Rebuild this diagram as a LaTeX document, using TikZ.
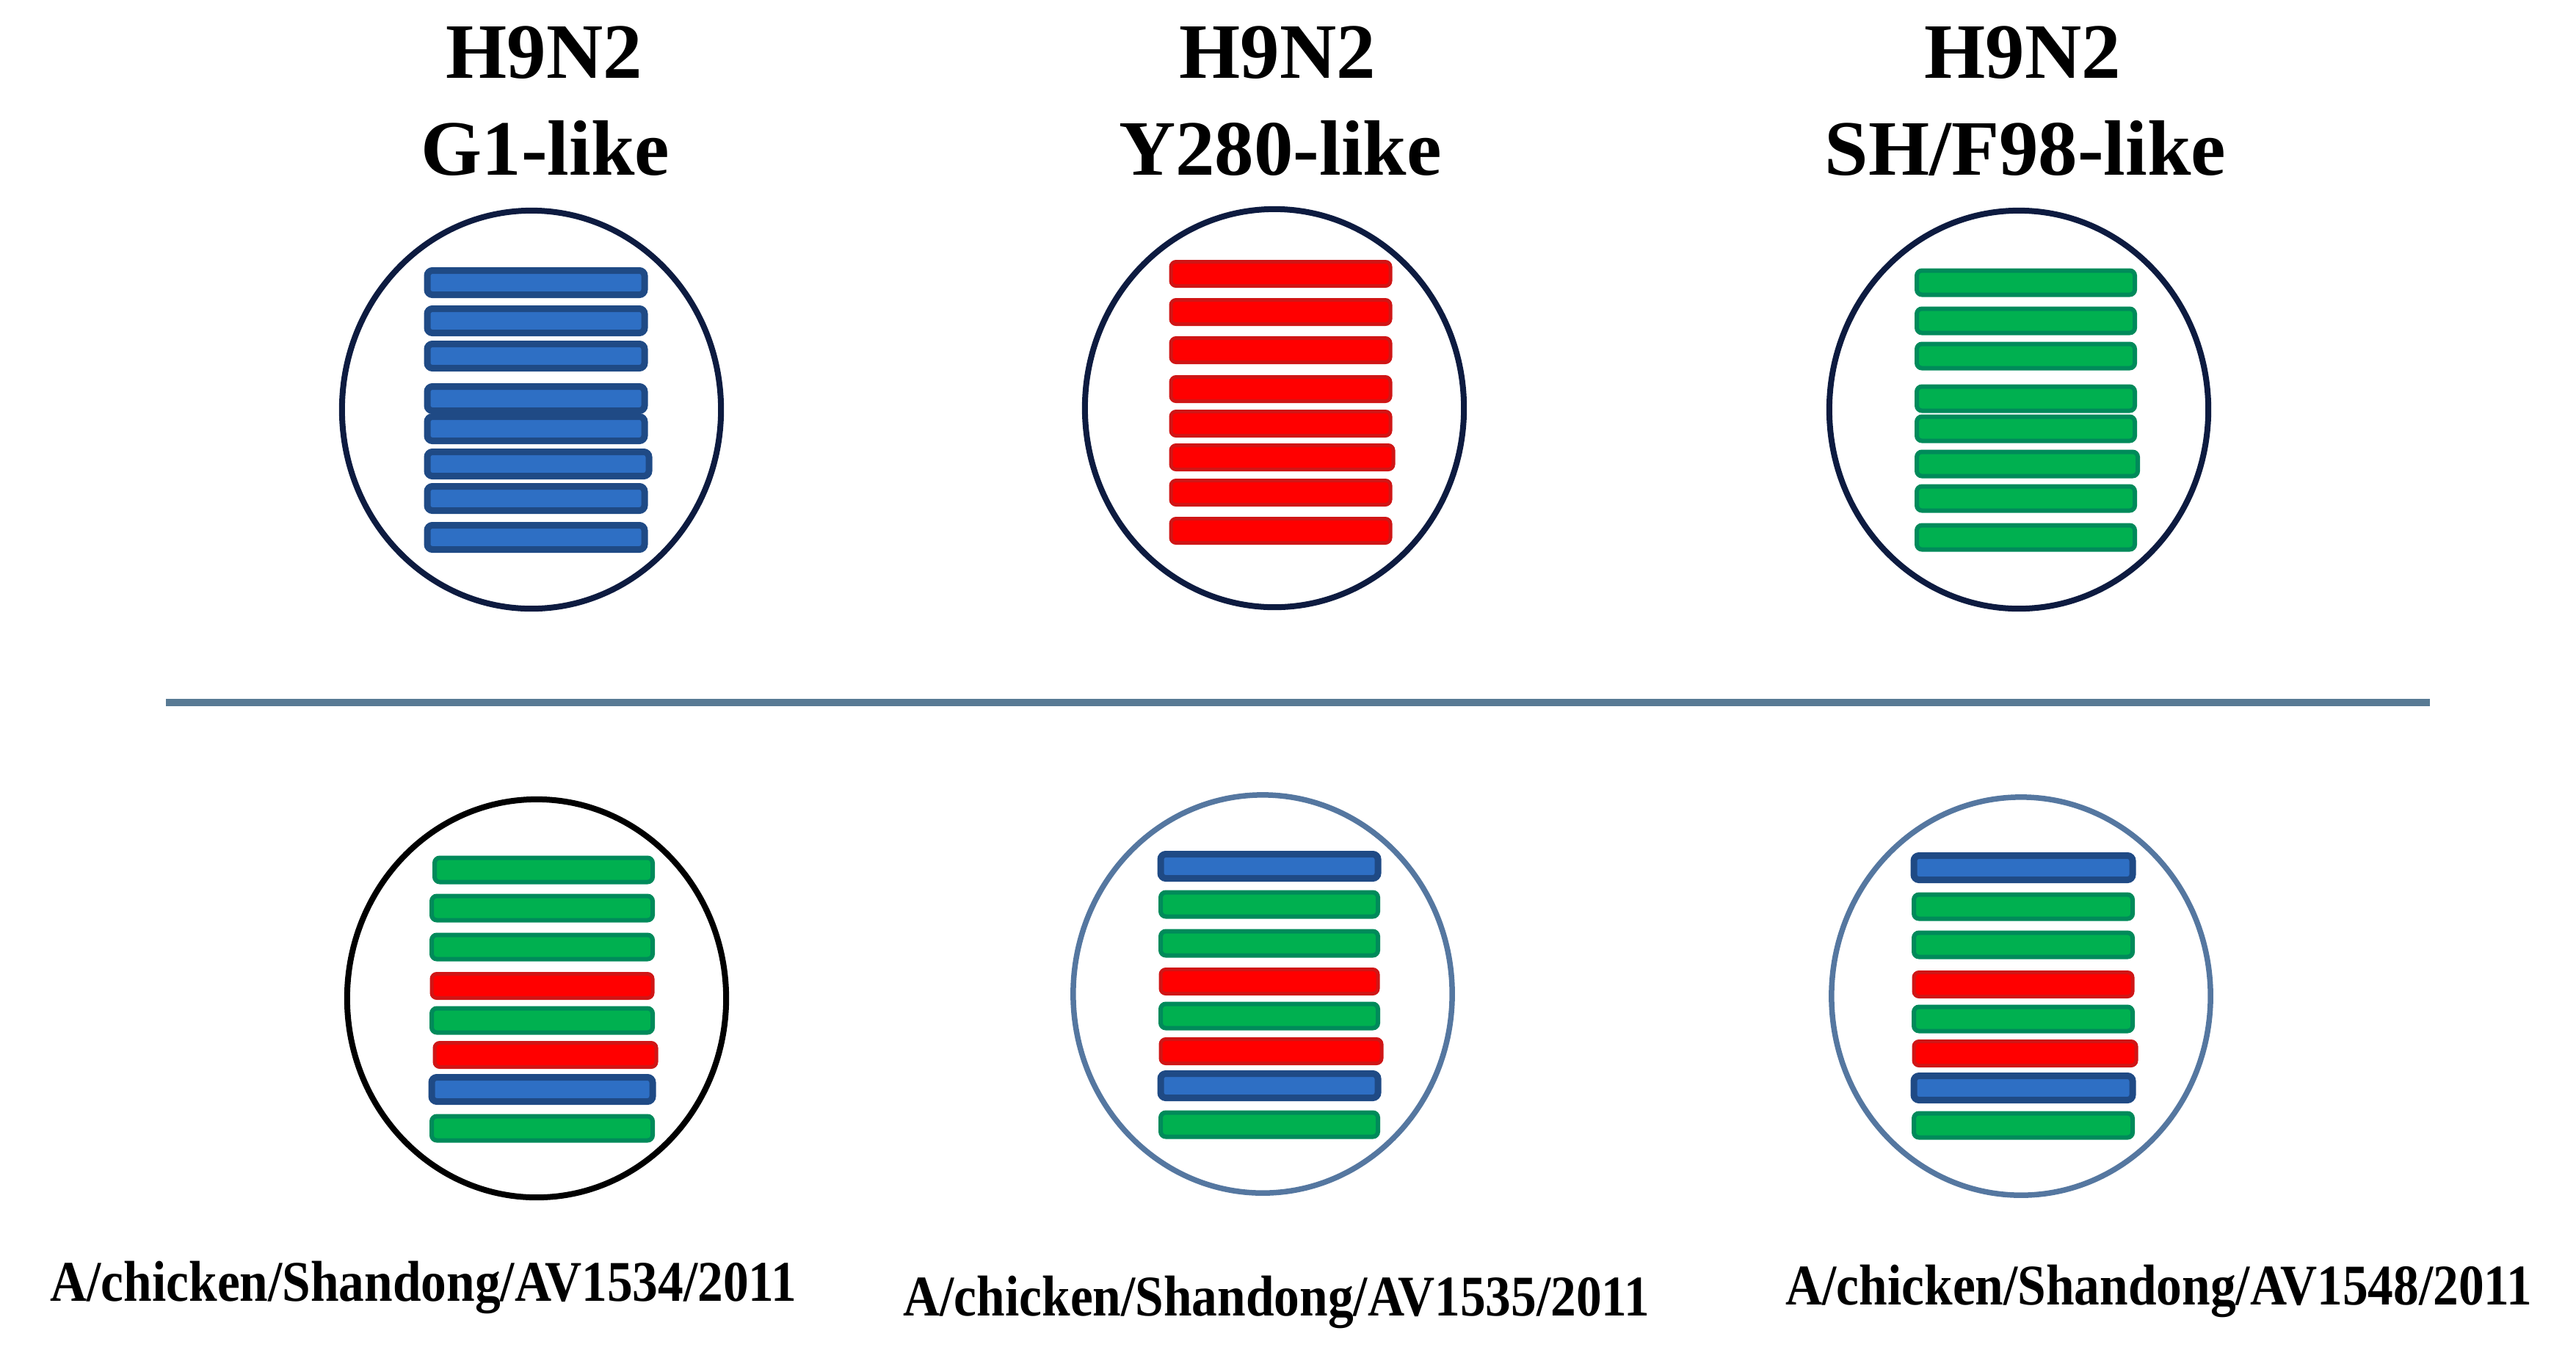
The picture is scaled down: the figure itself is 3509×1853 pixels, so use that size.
\documentclass[tikz,border=0pt]{standalone}
\usepackage{fontspec}
\setmainfont{Liberation Serif}
\usetikzlibrary{shapes.geometric}
\definecolor{navy}{HTML}{0D1B40}
\definecolor{steel}{HTML}{5577A0}
\definecolor{sepcol}{HTML}{587A94}
\definecolor{barBd}{HTML}{1F4A85}
\definecolor{barBf}{HTML}{2E6FC4}
\definecolor{barGd}{HTML}{008A5A}
\definecolor{barGf}{HTML}{00B050}
\definecolor{barRd}{HTML}{D01515}
\definecolor{barRf}{HTML}{FF0000}
\tikzset{
  barB/.style={draw=barBd, fill=barBf, line width=0.09cm, rounded corners=0.07cm},
  barG/.style={draw=barGd, fill=barGf, line width=0.06cm, rounded corners=0.07cm},
  barR/.style={draw=barRd, fill=barRf, line width=0.05cm, rounded corners=0.07cm},
  ring/.style={ellipse, minimum width=5.16cm, minimum height=5.42cm, line width=0.08cm, inner sep=0pt},
  topring/.style={ring, draw=navy},
  blackring/.style={ring, draw=black},
  steelring/.style={ring, draw=steel, line width=0.075cm},
  sepline/.style={draw=sepcol, line width=0.1cm},
  title/.style={anchor=base, inner sep=0pt, font=\fontsize{30.4}{37.6}\selectfont\bfseries},
  strain/.style={anchor=base, inner sep=0pt, font=\fontsize{22.3}{26}\selectfont\bfseries}
}
\begin{document}
\begin{tikzpicture}[x=0.01cm, y=-0.01cm]
\useasboundingbox (0,0) rectangle (3509,1853);
% titles
\node[title] (t1a) at (741,106) {H9N2};
\node[title] (t1b) at (743,238) {G1-like};
\node[title] (t2a) at (1740,106) {H9N2};
\node[title] (t2b) at (1744,238) {Y280-like};
\node[title] (t3a) at (2755,106) {H9N2};
\node[title] (t3b) at (2759,238) {SH/F98-like};
% top circles
\node[topring] (c1) at (724,558) {};
\node[topring] (c2) at (1736,556) {};
\node[topring] (c3) at (2750,558) {};
% top bars
\foreach \y/\c/\r in {385/B/882, 437/B/882, 485/B/882, 543/B/882, 584/B/882, 632/B/888, 679/B/882, 732/B/882}
  \draw[bar\c] (582,\y-16.5) rectangle (\r-4,\y+16.5);
\foreach \y/\c/\r in {373/R/1898, 425/R/1898, 477/R/1898, 530/R/1898, 577/R/1898, 623/R/1902, 671/R/1898, 723/R/1898}
  \draw[bar\c] (1595,\y-16.5) rectangle (\r-4,\y+16.5);
\foreach \y/\c/\r in {385/G/2912, 437/G/2912, 485/G/2912, 543/G/2912, 584/G/2912, 632/G/2916, 679/G/2912, 732/G/2912}
  \draw[bar\c] (2611,\y-16.5) rectangle (\r-4,\y+16.5);
% separator
\coordinate (sl) at (226,957);
\coordinate (sr) at (3310,957);
\draw[sepline] (sl) -- (sr);
% bottom circles
\node[blackring] (d1) at (731,1360) {};
\node[steelring] (d2) at (1720,1354) {};
\node[steelring] (d3) at (2753,1357) {};
% bottom bars
\foreach \y/\c/\l/\r in {1185/G/588/893, 1237/G/584/893, 1290/G/584/893, 1343/R/584/893, 1390/G/584/893, 1437/R/588/898, 1484/B/584/893, 1537/G/584/893}
  \draw[bar\c] (\l+4,\y-16.5) rectangle (\r-4,\y+16.5);
\foreach \y/\c/\r in {1180/B/1881, 1232/G/1881, 1285/G/1881, 1337/R/1881, 1384/G/1881, 1432/R/1886, 1479/B/1881, 1532/G/1881}
  \draw[bar\c] (1581,\y-16.5) rectangle (\r-4,\y+16.5);
\foreach \y/\c/\r in {1182/B/2909, 1235/G/2909, 1287/G/2909, 1341/R/2909, 1388/G/2909, 1435/R/2914, 1482/B/2909, 1533/G/2909}
  \draw[bar\c] (2607,\y-16.5) rectangle (\r-4,\y+16.5);
% strain labels
\node[strain] (s1) at (577,1772) {\scalebox{0.885}[1]{A/chicken/Shandong/AV1534/2011}};
\node[strain] (s2) at (1739,1792) {\scalebox{0.885}[1]{A/chicken/Shandong/AV1535/2011}};
\node[strain] (s3) at (2941,1777) {\scalebox{0.885}[1]{A/chicken/Shandong/AV1548/2011}};
\end{tikzpicture}
\end{document}
